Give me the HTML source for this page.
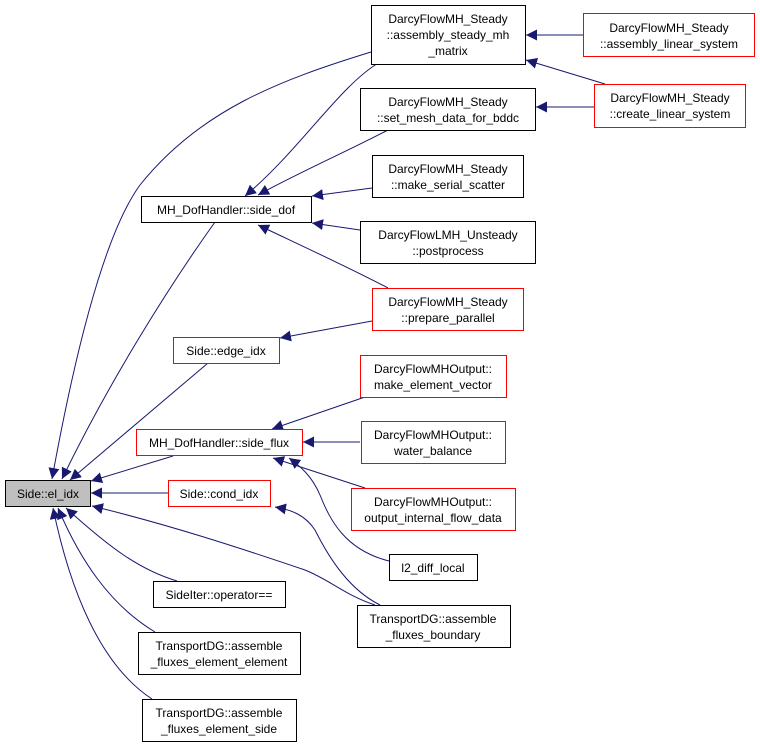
<!DOCTYPE html>
<html><head><meta charset="utf-8"><style>
html,body{margin:0;padding:0;background:#fff;}
svg{display:block;}
text{font-family:"Liberation Sans",Arial,sans-serif;font-size:12px;fill:#000;}
</style></head><body>
<svg width="760" height="747" viewBox="0 0 760 747" xmlns="http://www.w3.org/2000/svg">
<defs>
<marker id="a" viewBox="0 0 10 10" refX="10" refY="5" markerWidth="11" markerHeight="11" markerUnits="userSpaceOnUse" orient="auto">
<path d="M0,0 L10,5 L0,10 z" fill="#191970"/>
</marker>
</defs>
<g fill="none" stroke="#191970" stroke-width="1" marker-end="url(#a)">
<path d="M583,35 L526,35"/>
<path d="M605,84 L526,60"/>
<path d="M594,107 L536,107"/>
<path d="M380,62 C340,85 300,150 245,196"/>
<path d="M388,130 C350,150 300,172 258,195"/>
<path d="M372,188 L312,196"/>
<path d="M360,230 L312,223"/>
<path d="M388,288 C350,268 300,245 258,225"/>
<path d="M372,321 L280,338"/>
<path d="M365,397 L272,429"/>
<path d="M360,442 L303,442"/>
<path d="M365,488 L273,458"/>
<path d="M389,561 C345,550 330,520 320,495 C312,476 300,466 289,458"/>
<path d="M380,605 C350,590 330,560 315,530 C305,515 292,510 275,507"/>
<path d="M371,52 C280,80 200,110 140,185 C100,240 70,380 52,479"/>
<path d="M215,222 C170,285 110,380 62,479"/>
<path d="M208,363 L70,480"/>
<path d="M173,456 L91,481"/>
<path d="M168,493 L91,493"/>
<path d="M375,605 C345,595 330,580 305,570 C240,548 170,525 92,506"/>
<path d="M177,581 C140,570 110,548 66,508"/>
<path d="M155,632 C110,605 80,560 58,508"/>
<path d="M152,699 C100,665 70,590 53,508"/>
</g>
<g stroke-width="1">
<rect x="5.5" y="480.5" width="85" height="26" fill="#bfbfbf" stroke="#000"/>
<rect x="141.5" y="196.5" width="170" height="26" fill="#fff" stroke="#000"/>
<rect x="173.5" y="337.5" width="106" height="26" fill="#fff" stroke="#f00"/>
<rect x="136.5" y="429.5" width="166" height="26" fill="#fff" stroke="#f00"/>
<rect x="168.5" y="480.5" width="102" height="26" fill="#fff" stroke="#f00"/>
<rect x="153.5" y="581.5" width="132" height="26" fill="#fff" stroke="#000"/>
<rect x="138.5" y="632.5" width="162" height="42" fill="#fff" stroke="#000"/>
<rect x="142.5" y="699.5" width="154" height="42" fill="#fff" stroke="#000"/>
<rect x="357.5" y="605.5" width="153" height="42" fill="#fff" stroke="#000"/>
<rect x="389.5" y="554.5" width="88" height="26" fill="#fff" stroke="#000"/>
<rect x="351.5" y="488.5" width="164" height="42" fill="#fff" stroke="#f00"/>
<rect x="361.5" y="421.5" width="144" height="42" fill="#fff" stroke="#f00"/>
<rect x="360.5" y="355.5" width="146" height="42" fill="#fff" stroke="#f00"/>
<rect x="371.5" y="5.5" width="154" height="59" fill="#fff" stroke="#000"/>
<rect x="360.5" y="88.5" width="175" height="42" fill="#fff" stroke="#000"/>
<rect x="372.5" y="155.5" width="151" height="42" fill="#fff" stroke="#000"/>
<rect x="360.5" y="221.5" width="175" height="42" fill="#fff" stroke="#000"/>
<rect x="372.5" y="288.5" width="151" height="42" fill="#fff" stroke="#f00"/>
<rect x="583.5" y="13.5" width="171" height="43" fill="#fff" stroke="#f00"/>
<rect x="594.5" y="84.5" width="151" height="43" fill="#fff" stroke="#f00"/>
</g>
<g text-anchor="middle">
<text x="48" y="498">Side::el_idx</text>
<text x="226" y="214">MH_DofHandler::side_dof</text>
<text x="226" y="355">Side::edge_idx</text>
<text x="219" y="447">MH_DofHandler::side_flux</text>
<text x="219" y="498">Side::cond_idx</text>
<text x="219" y="599">SideIter::operator==</text>
<text x="219" y="650">TransportDG::assemble</text>
<text x="219" y="666">_fluxes_element_element</text>
<text x="219" y="717">TransportDG::assemble</text>
<text x="219" y="733">_fluxes_element_side</text>
<text x="433" y="623">TransportDG::assemble</text>
<text x="433" y="639">_fluxes_boundary</text>
<text x="433" y="572">l2_diff_local</text>
<text x="433" y="506">DarcyFlowMHOutput::</text>
<text x="433" y="522">output_internal_flow_data</text>
<text x="433" y="439">DarcyFlowMHOutput::</text>
<text x="433" y="455">water_balance</text>
<text x="433" y="373">DarcyFlowMHOutput::</text>
<text x="433" y="389">make_element_vector</text>
<text x="448" y="23">DarcyFlowMH_Steady</text>
<text x="448" y="39">::assembly_steady_mh</text>
<text x="448" y="55">_matrix</text>
<text x="448" y="106">DarcyFlowMH_Steady</text>
<text x="448" y="122">::set_mesh_data_for_bddc</text>
<text x="448" y="173">DarcyFlowMH_Steady</text>
<text x="448" y="189">::make_serial_scatter</text>
<text x="448" y="239">DarcyFlowLMH_Unsteady</text>
<text x="448" y="255">::postprocess</text>
<text x="448" y="306">DarcyFlowMH_Steady</text>
<text x="448" y="322">::prepare_parallel</text>
<text x="669" y="32">DarcyFlowMH_Steady</text>
<text x="669" y="48">::assembly_linear_system</text>
<text x="670" y="102">DarcyFlowMH_Steady</text>
<text x="670" y="118">::create_linear_system</text>
</g>
</svg>
</body></html>
